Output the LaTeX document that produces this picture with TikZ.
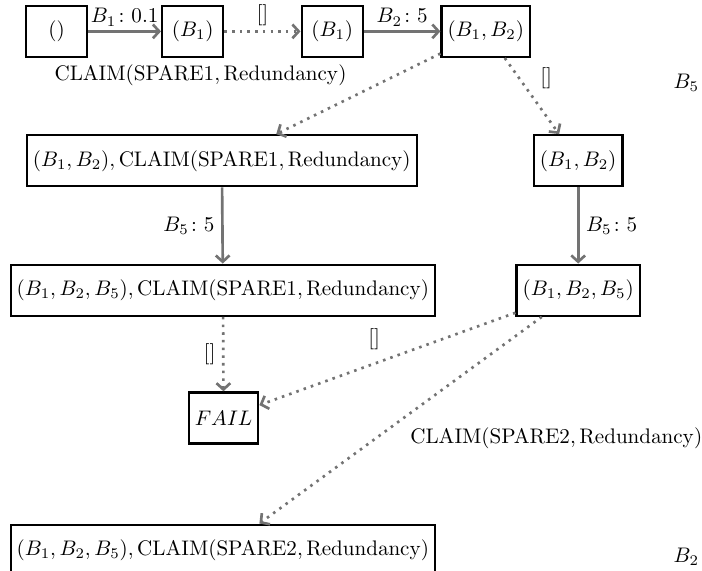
\RequirePackage{fix-cm}
\documentclass[tikz,border=0pt]{standalone}
\usepackage{amsmath}
\usetikzlibrary{arrows.meta}
\tikzset{
  every node/.style={font=\fontsize{10.7}{13}\selectfont},
  >={Straight Barb[length=3.2pt, width=7pt]},
  st/.style={draw, line width=1.2pt, minimum width=1.09cm, minimum height=0.91cm, inner xsep=3pt},
  lbl/.style={inner sep=2pt},
  dots/.style={dash pattern=on 1.3pt off 2.6pt}
}
\begin{document}
\begin{tikzpicture}

\useasboundingbox (0,0) rectangle (12.53,-10.19);

\node [st] (s0) at (1.01,-0.56) {$()$};
\node [st] (s1) at (3.44,-0.56) {$(B_1)$};
\node [st] (s2) at (5.93,-0.56) {$(B_1)$};
\node [st] (s3) at (8.67,-0.56) {$(B_1, B_2)$};
\node [st] (s4) at (3.96,-2.87) {$(B_1, B_2), \mathrm{CLAIM}(\mathrm{SPARE1}, \mathrm{Redundancy})$};
\node [st] (s5) at (10.32,-2.87) {$(B_1, B_2)$};
\node [st] (s6) at (3.98,-5.18) {$(B_1, B_2, B_5), \mathrm{CLAIM}(\mathrm{SPARE1}, \mathrm{Redundancy})$};
\node [st] (s7) at (10.32,-5.18) {$(B_1, B_2, B_5)$};
\node [st] (fail) at (3.99,-7.46) {$FAIL$};
\node [st] (s8) at (3.98,-9.82) {$(B_1, B_2, B_5), \mathrm{CLAIM}(\mathrm{SPARE2}, \mathrm{Redundancy})$};

\node (c1) at (3.58,-1.34) {$\mathrm{CLAIM}(\mathrm{SPARE1}, \mathrm{Redundancy})$};
\node (e1) at (9.75,-1.39) {$[]$};
\node (b5) at (12.25,-1.48) {$B_5$};
\node (e2) at (6.68,-6.05) {$[]$};
\node (c2) at (9.93,-7.82) {$\mathrm{CLAIM}(\mathrm{SPARE2}, \mathrm{Redundancy})$};
\node (b2) at (12.25,-9.94) {$B_2$};

\begin{scope}[->, line width=1.35pt, black!55]
\draw (s0) -- (s1) node [midway, above, lbl, black] {$B_1\colon 0.1$};
\draw [dots] (s1) -- (s2) node [midway, above, lbl, black] {$[]$};
\draw (s2) -- (s3) node [midway, above, lbl, black] {$B_2\colon 5$};
\draw [dots] (s3) -- (s4);
\draw [dots] (s3) -- (s5);
\draw (s4) -- (s6) node [midway, left, black] {$B_5\colon 5$};
\draw (s5) -- (s7) node [midway, right, black] {$B_5\colon 5$};
\draw [dots] (s6) -- (fail) node [midway, left, black] {$[]$};
\draw [dots] (s7) -- (fail);
\draw [dots] (s7) -- (s8);
\end{scope}

\end{tikzpicture}
\end{document}
